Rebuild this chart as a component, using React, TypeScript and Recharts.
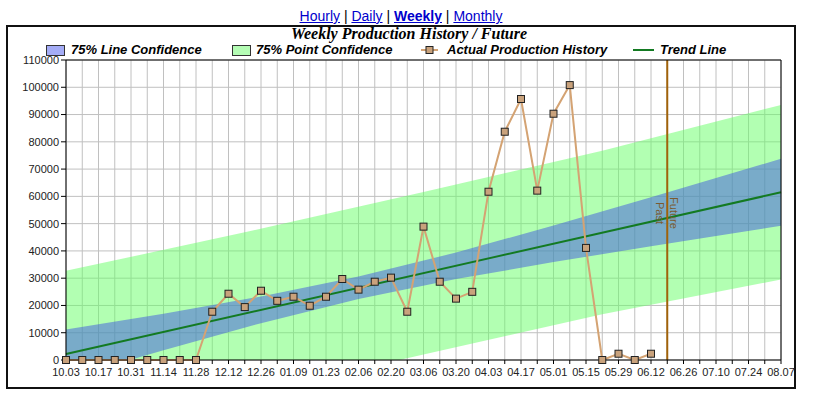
import { ComposedChart, Area, Line, XAxis, YAxis, CartesianGrid, ReferenceLine } from 'recharts';

const weeks = [
  '10.03', '10.10', '10.17', '10.24', '10.31', '11.07', '11.14', '11.21', '11.28', '12.05',
  '12.12', '12.19', '12.26', '01.02', '01.09', '01.16', '01.23', '01.30', '02.06', '02.13',
  '02.20', '02.27', '03.06', '03.13', '03.20', '03.27', '04.03', '04.10', '04.17', '04.24',
  '05.01', '05.08', '05.15', '05.22', '05.29', '06.05', '06.12', '06.19', '06.26', '07.03',
  '07.10', '07.17', '07.24', '07.31', '08.07',
];

// actual weekly production, up to 06.12
const production = [
  0, 0, 0, 0, 0, 0, 0, 0, 0, 17700,
  24300, 19400, 25400, 21700, 23200, 19900, 23200, 29700, 25800, 28700,
  30200, 17700, 48900, 28700, 22500, 25000, 61700, 83700, 95700, 62100,
  90300, 100800, 41100, 0, 2300, 0, 2300,
];

// trend line end points (week index -> value)
const trendWeeks = [0, 44];
const trendValues = [2200, 61500];

// 75% line confidence band, read at a few weeks
const lineBandWeeks = [0, 6, 12, 18, 24, 30, 36, 40, 44];
const lineBandLow = [-6800, 3600, 13500, 22400, 29700, 35900, 41700, 45500, 49200];
const lineBandHigh = [11200, 17000, 23300, 30600, 39400, 49300, 59700, 66700, 73800];

// 75% point confidence band
const pointBandWeeks = [0, 11, 22, 33, 44];
const pointBandLow = [-28300, -12800, 2000, 16800, 29500];
const pointBandHigh = [32700, 46800, 61600, 76700, 93500];

const yTicks = [0, 10000, 20000, 30000, 40000, 50000, 60000, 70000, 80000, 90000, 100000, 110000];

const data = weeks.map((week, i) => {
  const t = trendWeeks.indexOf(i);
  const lb = lineBandWeeks.indexOf(i);
  const pb = pointBandWeeks.indexOf(i);
  return {
    week,
    actual: i < production.length ? production[i] : null,
    trend: t >= 0 ? trendValues[t] : null,
    lineBand: lb >= 0 ? [lineBandLow[lb], lineBandHigh[lb]] : null,
    pointBand: pb >= 0 ? [pointBandLow[pb], pointBandHigh[pb]] : null,
  };
});

const SANS = '"Liberation Sans", Arial, sans-serif';

const WeekTick = (props: any) => {
  const { x, y, payload } = props;
  if (weeks.indexOf(payload.value) % 2 !== 0) return <g />;
  return (
    <text x={x} y={y} dy="0.71em" textAnchor="middle" fontSize={11} fill="#222" fontFamily={SANS}>
      {payload.value}
    </text>
  );
};

const SquareDot = (props: any) => {
  const { cx, cy, value, index } = props;
  if (value == null || cx == null || cy == null) return <g key={index} />;
  return <rect key={index} x={cx - 3.5} y={cy - 3.5} width={7} height={7} fill="#c9a27c" stroke="#222" strokeWidth={1} />;
};

const PastFuture = (props: any) => {
  const { viewBox } = props;
  if (!viewBox) return null;
  const cx = viewBox.x;
  const cy = viewBox.y + viewBox.height * 0.51;
  return (
    <g fontFamily={SANS} fontSize={11} fill="#7a5a30">
      <text x={cx - 7} y={cy} textAnchor="middle" dominantBaseline="central" transform={`rotate(90 ${cx - 7} ${cy})`}>Past</text>
      <text x={cx + 7} y={cy} textAnchor="middle" dominantBaseline="central" transform={`rotate(90 ${cx + 7} ${cy})`}>Future</text>
    </g>
  );
};

const legendText: any = { position: 'absolute', top: 42, fontFamily: SANS, fontSize: 13, fontWeight: 'bold', fontStyle: 'italic', color: '#000', whiteSpace: 'nowrap' };

export default function App() {
  return (
    <div style={{ position: 'absolute', left: 0, top: 0, width: 813, height: 394, background: '#fff' }}>
      <div style={{ position: 'absolute', left: 0, top: 8, width: 802, textAlign: 'center', fontFamily: SANS, fontSize: 14 }}>
        <span style={{ color: '#00c', textDecoration: 'underline' }}>Hourly</span>
        <span> | </span>
        <span style={{ color: '#00c', textDecoration: 'underline' }}>Daily</span>
        <span> | </span>
        <span style={{ color: '#00c', textDecoration: 'underline', fontWeight: 'bold' }}>Weekly</span>
        <span> | </span>
        <span style={{ color: '#00c', textDecoration: 'underline' }}>Monthly</span>
      </div>
      <div style={{ position: 'absolute', left: 6, top: 25, width: 790, height: 364, border: '2px solid #111', boxSizing: 'border-box' }} />
      <div style={{ position: 'absolute', left: 0, top: 25, width: 818, textAlign: 'center', fontFamily: '"Liberation Serif", "Times New Roman", serif', fontSize: 16, fontWeight: 'bold', fontStyle: 'italic' }}>
        Weekly Production History / Future
      </div>

      <div style={{ position: 'absolute', left: 46, top: 45, width: 17, height: 9, background: '#a4acf6', border: '1px solid #333' }} />
      <div style={{ ...legendText, left: 71 }}>75% Line Confidence</div>
      <div style={{ position: 'absolute', left: 232, top: 45, width: 17, height: 9, background: '#b4fcb4', border: '1px solid #333' }} />
      <div style={{ ...legendText, left: 256 }}>75% Point Confidence</div>
      <svg style={{ position: 'absolute', left: 420, top: 44, overflow: 'visible' }} width={20} height={12}>
        <line x1={1} y1={6} x2={18} y2={6} stroke="#d4a373" strokeWidth={2} />
        <rect x={6} y={2.5} width={7} height={7} fill="#c9a27c" stroke="#222" strokeWidth={1} />
      </svg>
      <div style={{ ...legendText, left: 447 }}>Actual Production History</div>
      <svg style={{ position: 'absolute', left: 633, top: 44 }} width={21} height={12}>
        <line x1={0} y1={6} x2={21} y2={6} stroke="#137a22" strokeWidth={2} />
      </svg>
      <div style={{ ...legendText, left: 660 }}>Trend Line</div>

      <div style={{ position: 'absolute', left: 0, top: 0 }}>
        <ComposedChart width={813} height={394} data={data} margin={{ top: 60, right: 32, bottom: 0, left: 0 }}>
          <CartesianGrid stroke="#c0c0c0" strokeWidth={1} />
          <XAxis
            dataKey="week"
            scale="point"
            padding={{ left: 0, right: 0 }}
            interval={0}
            height={34}
            tickSize={4}
            tickMargin={4}
            tick={<WeekTick />}
            stroke="#000"
          />
          <YAxis
            domain={[0, 110000]}
            ticks={yTicks}
            width={66}
            tickSize={5}
            tickMargin={2}
            interval={0}
            stroke="#000"
            tick={{ fontSize: 11, fill: '#222', fontFamily: SANS }}
          />
          <YAxis yAxisId="band" hide domain={[0, 110000]} allowDataOverflow />
          <Area
            yAxisId="band"
            type="linear"
            dataKey="pointBand"
            connectNulls
            stroke="none"
            fill="#66ff66"
            fillOpacity={0.5}
            isAnimationActive={false}
          />
          <Area
            yAxisId="band"
            type="linear"
            dataKey="lineBand"
            connectNulls
            stroke="none"
            fill="#4058e0"
            fillOpacity={0.5}
            isAnimationActive={false}
          />
          <Line type="linear" dataKey="trend" connectNulls stroke="#137a22" strokeWidth={2} dot={false} isAnimationActive={false} />
          <ReferenceLine x="06.19" stroke="#a0620a" strokeWidth={2} label={<PastFuture />} />
          <ReferenceLine y={110000} stroke="#000" strokeWidth={1} />
          <ReferenceLine x="08.07" stroke="#000" strokeWidth={1} />
          <Line type="linear" dataKey="actual" stroke="#d4a373" strokeWidth={2} dot={SquareDot} activeDot={false} isAnimationActive={false} />
        </ComposedChart>
      </div>
    </div>
  );
}
